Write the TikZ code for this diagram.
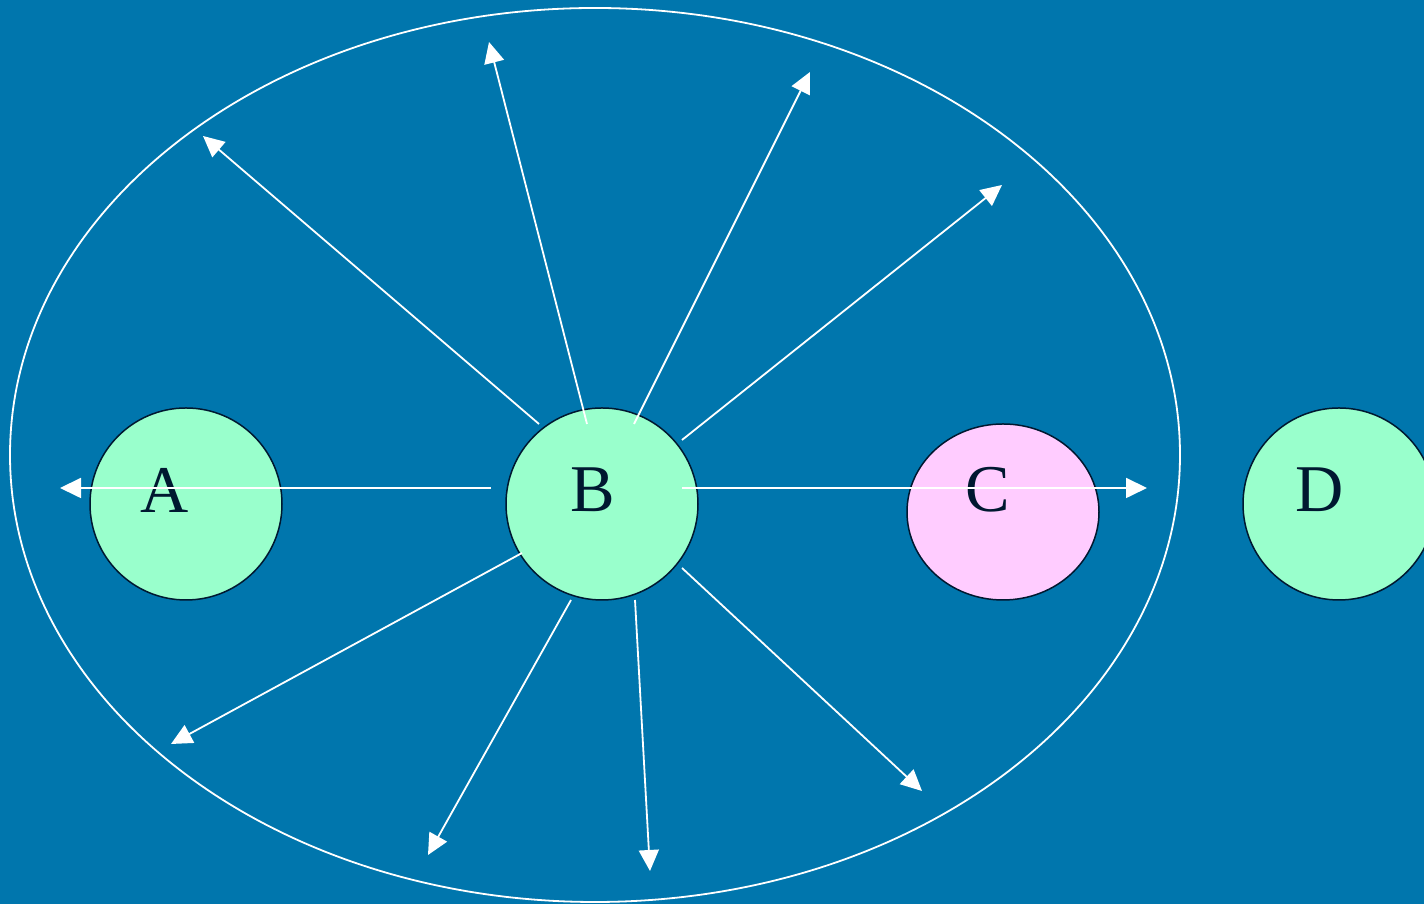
\documentclass[tikz,border=0pt]{standalone}
\usepackage{fontspec}
\setmainfont{Liberation Serif}
\usetikzlibrary{arrows.meta,shapes.geometric}

\definecolor{bgblue}{HTML}{0076AD}
\definecolor{mint}{HTML}{99FFCC}
\definecolor{pinkish}{HTML}{FFCCFF}
\definecolor{inkblue}{HTML}{001830}

\tikzset{
  ball/.style={circle, draw=inkblue, line width=0.15mm, minimum size=19.2mm, inner sep=0pt},
  egg/.style={ellipse, draw=inkblue, line width=0.15mm, minimum width=19.2mm, minimum height=17.6mm, inner sep=0pt},
  lbl/.style={text=inkblue, font=\fontsize{19}{21}\selectfont, inner sep=0pt},
  ray/.style={white, line width=0.18mm, -{Triangle[length=2.1mm, width=2mm]}}
}

\begin{document}
\begin{tikzpicture}[x=0.1mm, y=-0.1mm]
  \fill[bgblue] (0,0) rectangle (1424,904);
  \useasboundingbox (0,0) rectangle (1424,904);

  \draw[white, line width=0.18mm] (595,455) ellipse [x radius=585, y radius=447];

  \node[ball, fill=mint] (A) at (186,504) {};
  \node[ball, fill=mint] (B) at (602,504) {};
  \node[egg, fill=pinkish] (C) at (1003,512) {};
  \node[ball, fill=mint] (D) at (1339,504) {};

  \node[lbl] (At) at (165,490) {A};
  \node[lbl] (Bt) at (593,490) {B};
  \node[lbl] (Ct) at (988,490) {C};
  \node[lbl] (Dt) at (1320,490) {D};

  % rays going out of B
  \foreach \n/\sx/\sy/\ex/\ey in {
      1/491/488/60/488, 2/682/488/1147/488,
      3/539/424/203/136, 4/587/424/489/42,
      5/634/424/810/72, 6/682/440/1002/185,
      7/522/553/171/744, 8/571/600/428/855,
      9/635/600/650/871, 10/682/568/922/791} {
    \coordinate (s\n) at (\sx,\sy);
    \coordinate (e\n) at (\ex,\ey);
    \draw[ray] (s\n) -- (e\n);
  }
\end{tikzpicture}
\end{document}
